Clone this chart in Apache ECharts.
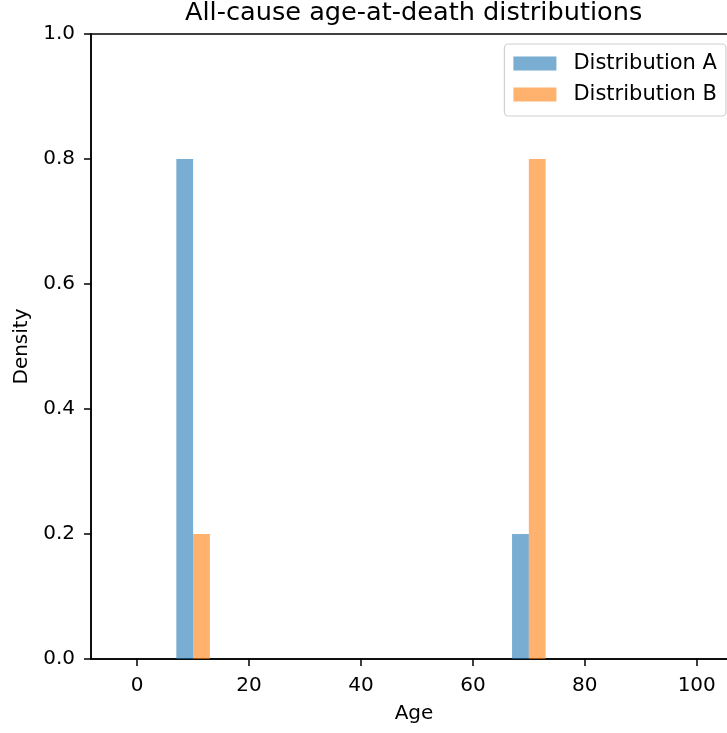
<!DOCTYPE html>
<html>
<head>
<meta charset="utf-8">
<script src="https://cdn.jsdelivr.net/npm/echarts@6/dist/echarts.min.js"></script>
<style>html,body{margin:0;padding:0;background:#fff;}#c{width:727px;height:733px;}</style>
</head>
<body>
<div id="c"></div>
<script>
// Data
const seriesNames = ['Distribution A', 'Distribution B'];
const barsA_left = [7, 67];
const barsA_right = [10, 70];
const densityA = [0.8, 0.2];
const barsB_left = [10, 70];
const barsB_right = [13, 73];
const densityB = [0.2, 0.8];
const xTicks = [0, 20, 40, 60, 80, 100];

const FONT = 'DejaVu Sans';
const chart = echarts.init(document.getElementById('c'), null, {renderer: 'canvas'});

function toRows(l, r, d) { return l.map((v, i) => [v, r[i], d[i]]); }

function renderBar(params, api) {
  const p0 = api.coord([api.value(0), 0]);
  const p1 = api.coord([api.value(1), api.value(2)]);
  return {
    type: 'rect',
    shape: {x: p0[0], y: p1[1], width: p1[0] - p0[0], height: p0[1] - p1[1]},
    style: api.style()
  };
}

const option = {
  animation: false,
  backgroundColor: '#ffffff',
  textStyle: {fontFamily: FONT},
  title: {
    text: 'All-cause age-at-death distributions',
    left: 185, top: 0, padding: 0,
    textStyle: {fontFamily: FONT, fontSize: 25.6, fontWeight: 'normal', color: '#000'}
  },
  legend: {
    orient: 'vertical',
    right: 1, top: 44,
    icon: 'rect',
    itemWidth: 43, itemHeight: 14, itemGap: 10,
    padding: [9, 9, 11, 9],
    backgroundColor: '#fff',
    borderColor: '#d0d0d0', borderWidth: 1.2, borderRadius: 4,
    textStyle: {fontFamily: FONT, fontSize: 21, color: '#000', lineHeight: 21, padding: [0, 0, 0, 12]},
    data: seriesNames
  },
  grid: {
    left: 91, right: -10, top: 34, bottom: 74,
    containLabel: false, outerBoundsMode: 'none',
    show: true, borderColor: '#000', borderWidth: 1.5, backgroundColor: 'transparent'
  },
  xAxis: {
    type: 'value', min: -8.25, max: 107.2,
    name: 'Age', nameLocation: 'middle', nameGap: 45,
    nameTextStyle: {fontFamily: FONT, fontSize: 20, color: '#000'},
    axisLine: {show: true, onZero: false, lineStyle: {color: '#000', width: 1.5}},
    axisTick: {show: true, length: 7, lineStyle: {color: '#000', width: 1.5}, customValues: xTicks},
    axisLabel: {fontFamily: FONT, fontSize: 20, color: '#000', margin: 17, customValues: xTicks},
    splitLine: {show: false}
  },
  yAxis: {
    type: 'value', min: 0, max: 1, interval: 0.2,
    name: 'Density', nameLocation: 'middle', nameGap: 58,
    nameTextStyle: {fontFamily: FONT, fontSize: 20, color: '#000'},
    axisLine: {show: true, onZero: false, lineStyle: {color: '#000', width: 1.5}},
    axisTick: {show: true, length: 7, lineStyle: {color: '#000', width: 1.5}},
    axisLabel: {fontFamily: FONT, fontSize: 20, color: '#000', margin: 16,
      formatter: v => v.toFixed(1)},
    splitLine: {show: false}
  },
  series: [
    {
      name: seriesNames[0], type: 'custom', renderItem: renderBar,
      encode: {x: [0, 1], y: 2},
      itemStyle: {color: 'rgba(31,119,180,0.6)'},
      data: toRows(barsA_left, barsA_right, densityA)
    },
    {
      name: seriesNames[1], type: 'custom', renderItem: renderBar,
      encode: {x: [0, 1], y: 2},
      itemStyle: {color: 'rgba(255,127,14,0.6)'},
      data: toRows(barsB_left, barsB_right, densityB)
    }
  ]
};
chart.setOption(option);
</script>
</body>
</html>
